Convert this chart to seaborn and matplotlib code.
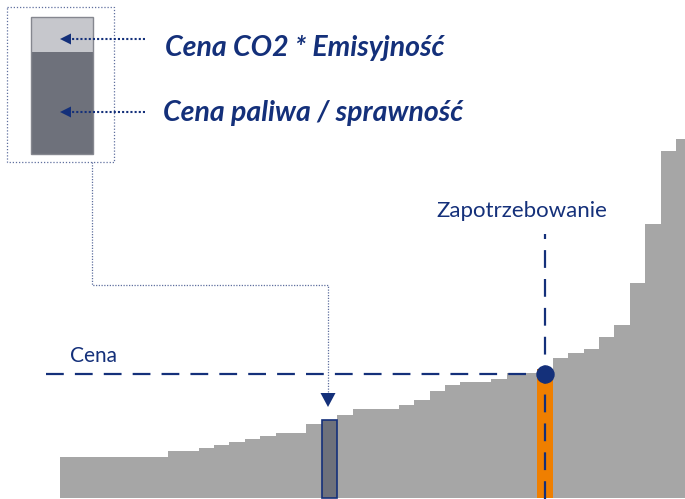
#!/usr/bin/env python3
"""
Merit-order (supply curve) illustration: price set by the marginal unit.
Saves out.png (685x499).
"""

import matplotlib
matplotlib.use("Agg")
import matplotlib.pyplot as plt
import matplotlib.transforms as mtransforms
from matplotlib.patches import Rectangle, Polygon
from matplotlib.lines import Line2D
import seaborn as sns
import pandas as pd

# --- data: generating units sorted by marginal cost -------------------------
unit_ids = list(range(41))
unit_costs = [41, 41, 41, 41, 41, 41, 41, 47, 47, 50,
              52.5, 55.5, 58.5, 62, 65, 65, 74, 77.5, 83, 89,
              89, 89, 93, 98, 107, 113, 116, 116, 119, 125,
              125, 128.5, 140, 145, 149, 161, 172.5, 215, 274, 347,
              358.5]
highlight_unit = 17      # example unit explained by the legend box
marginal_unit = 31       # unit that meets demand
market_price = 124
demand_line_top = 264

legend_labels = ["Cena CO2 * Emisyjność", "Cena paliwa / sprawność"]
price_label = "Cena"
demand_label = "Zapotrzebowanie"

# --- colours ----------------------------------------------------------------
NAVY = "#14307a"
GREY = "#a6a6a6"
DARK = "#6e717b"
LIGHT = "#c6c7cc"
ORANGE = "#ef7f00"
DOTTED = "#5f6f9e"

kind = ["normal"] * len(unit_ids)
kind[highlight_unit] = "highlight"
kind[marginal_unit] = "marginal"
df = pd.DataFrame({"unit": unit_ids, "cost": unit_costs, "kind": kind})

sns.set_style("white")
plt.rcParams["font.family"] = ["Lato", "DejaVu Sans"]

fig = plt.figure(figsize=(6.85, 4.99), dpi=100)
ax = fig.add_axes([0, 0, 1, 1])

sns.barplot(data=df, x="unit", y="cost", hue="kind",
            palette={"normal": GREY, "highlight": DARK, "marginal": ORANGE},
            saturation=1, width=1.0, dodge=False, legend=False, linewidth=0,
            ax=ax)

# outline the example unit
for p in ax.patches:
    if matplotlib.colors.same_color(p.get_facecolor(), DARK):
        p.set_edgecolor(NAVY)
        p.set_linewidth(1.2)
        p.set_zorder(3)

# unit width ~15.4 px, first bar starts at x=60 px
ax.set_xlim(-4.4, 40.08)
ax.set_ylim(-1.5, 497.5)
ax.axis("off")

# price and demand lines
ax.plot([-1.41, marginal_unit], [market_price, market_price], color=NAVY,
        lw=1.6, dashes=(8, 5), zorder=4)
ax.plot([marginal_unit, marginal_unit], [-1.5, demand_line_top], color=NAVY,
        lw=1.6, dashes=(8, 5), zorder=4)
ax.scatter([marginal_unit], [market_price], s=150, color=NAVY, zorder=5)

# --- annotations in image pixel coordinates (y from top) -------------------
px = mtransforms.Affine2D().scale(1 / 685, -1 / 499).translate(0, 1) + fig.transFigure

def add(artist):
    artist.set_transform(px)
    artist.set_clip_on(False)
    fig.add_artist(artist)

add(Rectangle((7.5, 6.5), 106.5, 155.5, fill=False, ec=DOTTED, lw=0.9,
              ls=(0, (1, 1.5))))
add(Rectangle((31, 17), 62, 35, fc=LIGHT, ec="none"))
add(Rectangle((31, 52), 62, 102, fc=DARK, ec="none"))
add(Rectangle((31, 17), 62, 137, fill=False, ec="#85878f", lw=1))

for y in (39, 112):
    add(Line2D([145, 70], [y, y], color=NAVY, lw=1.5, ls=(0, (1, 1))))
    add(Polygon([(60, y), (71, y - 5.5), (71, y + 5.5)], closed=True,
                fc=NAVY, ec="none"))

add(Line2D([92, 92, 328, 328], [162, 285, 285, 393], color=DOTTED, lw=0.9,
           ls=(0, (1, 1.2))))
add(Polygon([(320.5, 393), (335.5, 393), (328, 407)], closed=True,
            fc=NAVY, ec="none"))

txt = dict(transform=px, color=NAVY)
fig.text(165, 48, legend_labels[0], fontsize=20.5, fontweight="bold",
         fontstyle="italic", ha="left", va="center", **txt)
fig.text(163, 113, legend_labels[1], fontsize=20.5, fontweight="bold",
         fontstyle="italic", ha="left", va="center", **txt)
fig.text(522, 211, demand_label, fontsize=16, ha="center", va="center", **txt)
fig.text(70, 356, price_label, fontsize=15, ha="left", va="center", **txt)

fig.savefig("out.png", dpi=100)
plt.close(fig)
